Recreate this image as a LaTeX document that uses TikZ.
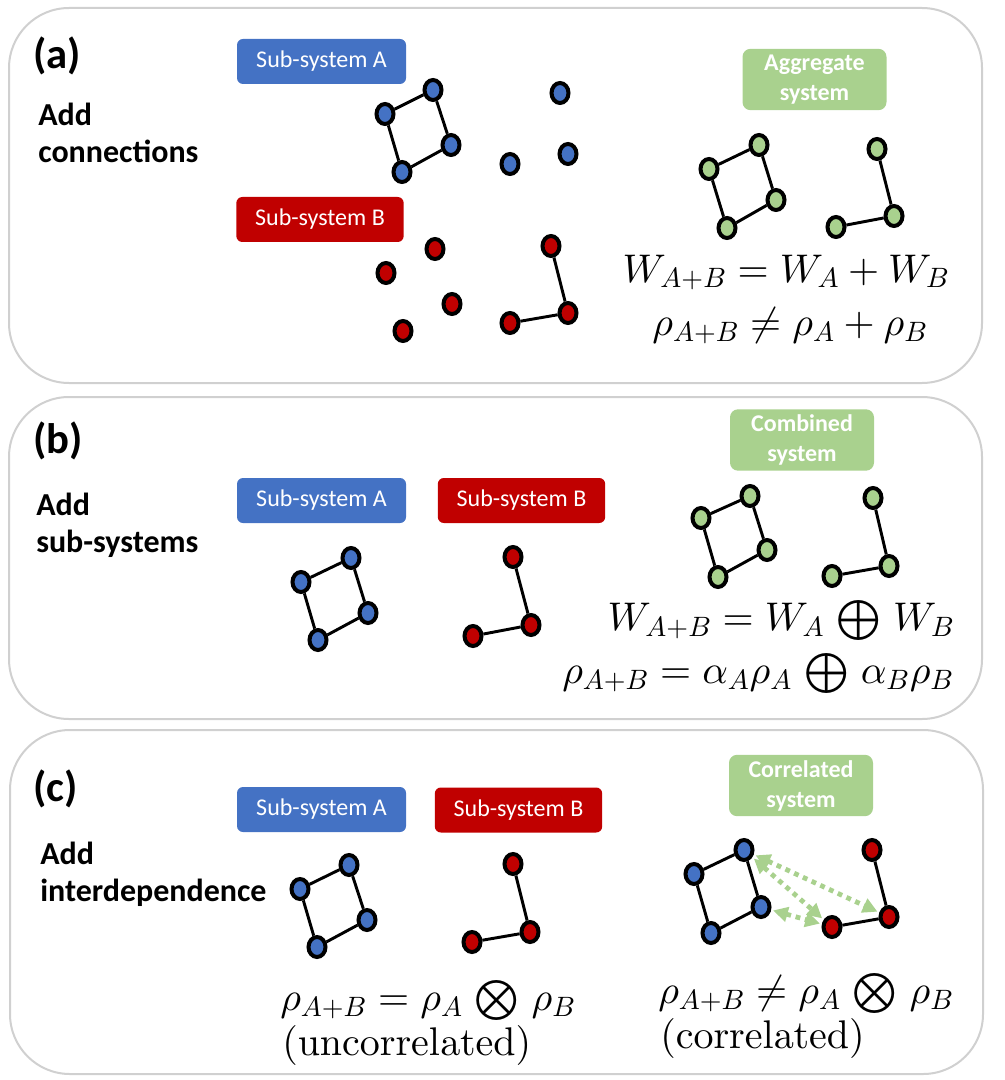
\documentclass[tikz,border=0pt]{standalone}
\usepackage[no-math]{fontspec}
\newfontfamily\carlito{Carlito}
\usetikzlibrary{shapes.geometric,arrows.meta}
% scalable 10pt designs for the big formulas
\DeclareFontShape{OT1}{cmr}{m}{n}{<->cmr10}{}
\DeclareFontShape{OML}{cmm}{m}{it}{<->cmmi10}{}
\DeclareFontShape{OMS}{cmsy}{m}{n}{<->cmsy10}{}
\DeclareFontShape{OMX}{cmex}{m}{n}{<->cmex10}{}
\newcommand{\dsum}{\mkern2.5mu\bigoplus\mkern2.5mu}
\newcommand{\tprod}{\mkern2.5mu\bigotimes\mkern2.5mu}

\definecolor{subA}{RGB}{68,114,196}
\definecolor{subB}{RGB}{192,0,0}
\definecolor{aggr}{RGB}{169,209,142}
\definecolor{panelgray}{RGB}{208,208,208}

\tikzset{
  panel/.style={draw=panelgray, line width=1.5pt, rounded corners=45pt},
  tag/.style={anchor=base west, inner sep=0pt, font=\carlito\bfseries\fontsize{32}{38}\selectfont},
  howto/.style={anchor=base west, inner sep=0pt, align=left, font=\carlito\bfseries\fontsize{24}{27.75}\selectfont},
  subbox/.style={rounded corners=4.5pt, text=white, minimum width=125.5pt, minimum height=33.75pt, inner sep=0pt, font=\carlito\fontsize{18}{22}\selectfont},
  sysbox/.style={fill=aggr, rounded corners=6pt, text=white, minimum width=108pt, minimum height=46pt, inner sep=0pt, align=center, font=\carlito\bfseries\fontsize{18}{22.5}\selectfont},
  vtx/.style={ellipse, draw, line width=3pt, minimum width=12.75pt, minimum height=15pt, inner sep=0pt},
  va/.style={vtx, fill=subA},
  vb/.style={vtx, fill=subB},
  vg/.style={vtx, fill=aggr},
  link/.style={line width=2.2pt},
  corr/.style={draw=aggr, line width=3.6pt, dash pattern=on 3.6pt off 3.6pt, {Triangle[length=11pt,width=11pt]}-{Triangle[length=11pt,width=11pt]}, shorten <=1.5pt, shorten >=1.5pt},
  eq/.style={anchor=base, inner sep=0pt, font=\fontsize{30}{36}\selectfont},
}

\begin{document}
\begin{tikzpicture}[x=0.75pt,y=0.75pt,yscale=-1,xscale=1]
\useasboundingbox (0,0) rectangle (1004,1080);

% Panels
\draw[panel] (9,8) rectangle (982,383);
\draw[panel] (9,397) rectangle (982,719);
\draw[panel] (10,730) rectangle (983,1074);

%%%%%%%%%%%%%%%% (a) add connections
\node[tag] (taga) at (33,69) {(a)};
\node[howto] (howa) at (38,163) {Add\\connections};
\node[subbox, fill=subA, minimum width=126.75pt] (aboxA) at (321.5,61.5) {Sub-system A};
\node[subbox, fill=subB] (aboxB) at (320,219.5) {Sub-system B};
\node[sysbox] (aboxG) at (814.5,79.5) {Aggregate\\system};

% blue
\node[va] (aA1) at (385,114) {};
\node[va] (aA2) at (433,90) {};
\node[va] (aA3) at (451,145) {};
\node[va] (aA4) at (402,172) {};
\node[va] (aA5) at (560,93) {};
\node[va] (aA6) at (510,164) {};
\node[va] (aA7) at (568,154) {};
\draw[link] (aA1) -- (aA2) -- (aA3) -- (aA4) -- (aA1);
% red
\node[vb] (aB1) at (435,249) {};
\node[vb] (aB2) at (386,273) {};
\node[vb] (aB3) at (452,304) {};
\node[vb] (aB4) at (403,331) {};
\node[vb] (aB5) at (551,246) {};
\node[vb] (aB6) at (568,313) {};
\node[vb] (aB7) at (510,323) {};
\draw[link] (aB5) -- (aB6) -- (aB7);
% green
\node[vg] (aG1) at (709,169) {};
\node[vg] (aG2) at (759,145) {};
\node[vg] (aG3) at (776,200) {};
\node[vg] (aG4) at (727,228) {};
\node[vg] (aG5) at (877,149) {};
\node[vg] (aG6) at (894,216) {};
\node[vg] (aG7) at (836,227) {};
\draw[link] (aG1) -- (aG2) -- (aG3) -- (aG4) -- (aG1);
\draw[link] (aG5) -- (aG6) -- (aG7);

\node[eq] (aeqW) at (786,282) {$W_{A+B}=W_A+W_B$};
\node[eq] (aeqR) at (790,335) {$\rho_{A+B}\neq\rho_A+\rho_B$};

%%%%%%%%%%%%%%%% (b) add sub-systems
\node[tag] (tagb) at (33,453) {(b)};
\node[howto] (howb) at (36,552) {Add\\sub-systems};
\node[subbox, fill=subA, minimum width=126.75pt] (bboxA) at (321.5,500.5) {Sub-system A};
\node[subbox, fill=subB] (bboxB) at (521.5,500.5) {Sub-system B};
\node[sysbox] (bboxG) at (802,440) {Combined\\system};

\node[va] (bA1) at (301,582) {};
\node[va] (bA2) at (351,558) {};
\node[va] (bA3) at (368,613) {};
\node[va] (bA4) at (318,640) {};
\draw[link] (bA1) -- (bA2) -- (bA3) -- (bA4) -- (bA1);
\node[vb] (bB1) at (513,557) {};
\node[vb] (bB2) at (531,625) {};
\node[vb] (bB3) at (473,636) {};
\draw[link] (bB1) -- (bB2) -- (bB3);
\node[vg] (bG1) at (701,518) {};
\node[vg] (bG2) at (750,496) {};
\node[vg] (bG3) at (767,550) {};
\node[vg] (bG4) at (718,577) {};
\node[vg] (bG5) at (873,498) {};
\node[vg] (bG6) at (889,566) {};
\node[vg] (bG7) at (832,576) {};
\draw[link] (bG1) -- (bG2) -- (bG3) -- (bG4) -- (bG1);
\draw[link] (bG5) -- (bG6) -- (bG7);

\node[eq] (beqW) at (781,630) {$W_{A+B}=W_A\dsum W_B$};
\node[eq] (beqR) at (758,683) {$\rho_{A+B}=\alpha_A\rho_A\dsum\alpha_B\rho_B$};

%%%%%%%%%%%%%%%% (c) add interdependence
\node[tag] (tagc) at (33,801) {(c)};
\node[howto] (howc) at (40,901) {Add\\interdependence};
\node[subbox, fill=subA, minimum width=126.75pt] (cboxA) at (321.5,809.5) {Sub-system A};
\node[subbox, fill=subB] (cboxB) at (518.5,810) {Sub-system B};
\node[sysbox] (cboxG) at (801,785.5) {Correlated\\system};

\node[va] (cA1) at (300,889) {};
\node[va] (cA2) at (349,865) {};
\node[va] (cA3) at (367,920) {};
\node[va] (cA4) at (317,947) {};
\draw[link] (cA1) -- (cA2) -- (cA3) -- (cA4) -- (cA1);
\node[vb] (cB1) at (513,864) {};
\node[vb] (cB2) at (530,932) {};
\node[vb] (cB3) at (472,942) {};
\draw[link] (cB1) -- (cB2) -- (cB3);

% correlated graph
\node[va] (cX1) at (694,874) {};
\node[va] (cX2) at (744,850) {};
\node[va] (cX3) at (761,907) {};
\node[va] (cX4) at (711,933) {};
\node[vb] (cY1) at (872,850) {};
\node[vb] (cY2) at (889,917) {};
\node[vb] (cY3) at (832,927) {};
\draw[link] (cX1) -- (cX2) -- (cX3) -- (cX4) -- (cX1);
\draw[link] (cY1) -- (cY2) -- (cY3);
\draw[corr] (cX2) -- (cY2);
\draw[corr] (cX2) -- (cY3);
\draw[corr] (cX3) -- (cY3);

\node[eq, anchor=base west] (ceqL) at (280,1010) {$\rho_{A+B}=\rho_A\tprod\rho_B$};
\node[eq, anchor=base west] (cunc) at (282,1055) {$(\mathrm{uncorrelated})$};
\node[eq, anchor=base west] (ceqR) at (658,1003) {$\rho_{A+B}\neq\rho_A\tprod\rho_B$};
\node[eq, anchor=base west] (ccor) at (660,1048) {$(\mathrm{correlated})$};

\end{tikzpicture}
\end{document}
